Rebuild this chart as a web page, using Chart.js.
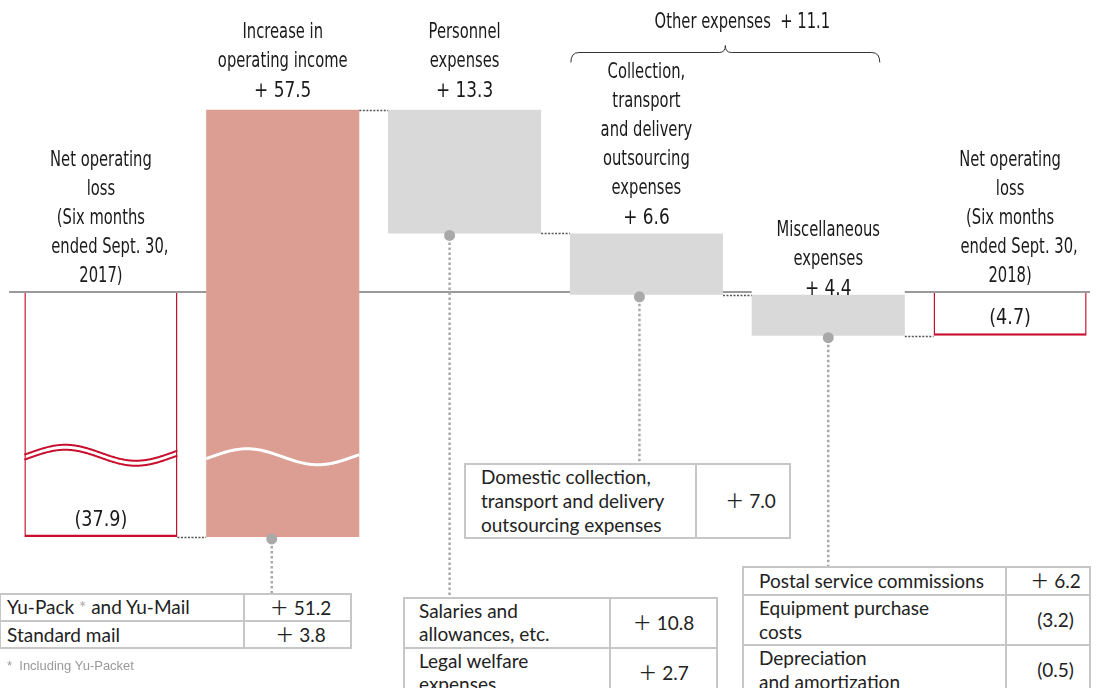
<!DOCTYPE html>
<html>
<head>
<meta charset="utf-8">
<script src="https://cdn.jsdelivr.net/npm/chart.js@4.4.1/dist/chart.umd.min.js"></script>
<style>
  body { margin: 0; background: #fff; }
  #wrap { position: relative; width: 1101px; height: 688px; overflow: hidden; }
  #chart { position: absolute; left: 0; top: 0; }
  table.breakdown {
    position: absolute; border-collapse: collapse; background: #fff;
    font-family: Lato, "Noto Sans CJK JP", sans-serif; font-size: 19px; color: #222;
  }
  table.breakdown td { border: 2px solid #c6c6c6; padding: 0 0 0 14px; line-height: 24px; white-space: nowrap; }
  table.breakdown td.val { text-align: center; padding: 0; }
  table.breakdown .star { color: #aaa; font-size: 17px; }
  #tblYu { left: -1px; top: 593px; width: 353px; }
  #tblYu td { height: 25px; padding-left: 6px; }
  #tblYu td:first-child { width: 236px; }
  #tblCollection { left: 464px; top: 463px; width: 327px; }
  #tblCollection td { height: 71px; padding-left: 15px; }
  #tblCollection td:first-child { width: 214px; }
  #tblPersonnel { left: 403px; top: 597px; width: 315px; }
  #tblPersonnel td { height: 43px; line-height: 23px; padding-bottom: 2px; }
  #tblPersonnel td:first-child { width: 190px; }
  #tblMisc { left: 742px; top: 566px; width: 349px; }
  #tblMisc td { height: 43px; padding-left: 15px; }
  #tblMisc tr:first-child td { height: 26px; }
  #tblMisc td:first-child { width: 246px; }
  #note { position: absolute; left: 7px; top: 658px; font: 13px "Liberation Sans", Arial, sans-serif; color: #999; }
</style>
</head>
<body>
<div id="wrap">
  <canvas id="chart" width="1101" height="688"></canvas>
  <div id="note">*&nbsp;&nbsp;Including Yu-Packet</div>
</div>
<script>
// Operating income bridge, six months ended Sept. 30 (billion yen)
const categories = ['Loss 2017', 'Operating income', 'Personnel', 'Collection', 'Miscellaneous', 'Loss 2018'];
const openingLoss = -37.9;
const incomeIncrease = 57.5;
const expenseIncreases = [13.3, 6.6, 4.4];   // personnel, collection/transport, misc
const closingLoss = -4.7;
const otherExpensesTotal = 11.1;

const headings = [
  ['Net operating', 'loss', '(Six months', 'ended Sept. 30,', '2017)'],
  ['Increase in', 'operating income'],
  ['Personnel', 'expenses'],
  ['Collection,', 'transport', 'and delivery', 'outsourcing', 'expenses'],
  ['Miscellaneous', 'expenses'],
  ['Net operating', 'loss', '(Six months', 'ended Sept. 30,', '2018)']
];

// breakdown tables hanging under the bars
const yuRows = [['Yu-Pack * and Yu-Mail', 51.2], ['Standard mail', 3.8]];
const personnelRows = [['Salaries and<br>allowances, etc.', 10.8], ['Legal welfare<br>expenses', 2.7]];
const collectionRows = [['Domestic collection,<br>transport and delivery<br>outsourcing expenses', 7.0]];
const miscRows = [['Postal service commissions', 6.2], ['Equipment purchase<br>costs', -3.2], ['Depreciation<br>and amortization', -0.5]];

// styling per bar
const fills = ['#ffffff', '#dc9d93', '#d9d9d9', '#d9d9d9', '#d9d9d9', '#ffffff'];
const isTotal = [true, false, false, false, false, true];
const headingGap = [16, 18, 18, 15, 6, 16];
const totalLineShift = [0, 0, 0, 9, 0];   // the "ended Sept. 30," line sits a bit to the right
const leaderTables = [null, 'tblYu', 'tblPersonnel', 'tblCollection', 'tblMisc', null];
const dotShift = [0, -11, -15, -7, 0, 0];
const RED = '#c8102e';

function fmtTable(v) {
  return v < 0 ? '(' + Math.abs(v).toFixed(1) + ')' : '\uFF0B ' + v.toFixed(1);
}

function buildTable(id, rows) {
  const t = document.createElement('table');
  t.className = 'breakdown';
  t.id = id;
  rows.forEach(r => {
    const tr = document.createElement('tr');
    const name = r[0].replace('*', '<span class="star">*</span>');
    tr.innerHTML = '<td>' + name + '</td><td class="val">' + fmtTable(r[1]) + '</td>';
    t.appendChild(tr);
  });
  document.getElementById('wrap').appendChild(t);
}
buildTable('tblYu', yuRows);
buildTable('tblPersonnel', personnelRows);
buildTable('tblCollection', collectionRows);
buildTable('tblMisc', miscRows);

// running totals -> floating bar ranges
const ranges = [];
const levels = [];
let level = openingLoss;
ranges.push([0, openingLoss]);
levels.push(level);
ranges.push([level, level + incomeIncrease]);
level += incomeIncrease;
levels.push(level);
expenseIncreases.forEach(v => {
  ranges.push([level, level - v]);
  level -= v;
  levels.push(level);
});
ranges.push([0, closingLoss]);

const valueLabels = [
  '(' + Math.abs(openingLoss).toFixed(1) + ')',
  '+ ' + incomeIncrease.toFixed(1),
  ...expenseIncreases.map(v => '+ ' + v.toFixed(1)),
  '(' + Math.abs(closingLoss).toFixed(1) + ')'
];

// linear scale with a squeezed section below the break value
class BrokenLinearScale extends Chart.LinearScale {
  squash(v) {
    const b = this.options.breakAt, f = this.options.squeeze;
    return v < b ? b + (v - b) * f : v;
  }
  getPixelForValue(v) {
    return super.getPixelForValue(this.squash(v));
  }
}
BrokenLinearScale.id = 'brokenLinear';
BrokenLinearScale.defaults = Chart.LinearScale.defaults;
Chart.register(BrokenLinearScale);

// narrow labels: DejaVu Sans squeezed horizontally
function narrowText(ctx, text, x, y, size, sx) {
  ctx.save();
  ctx.translate(x, y);
  ctx.scale(sx, 1);
  ctx.font = size + 'px "DejaVu Sans", sans-serif';
  ctx.fillText(text, 0, 0);
  ctx.restore();
}

function wave(ctx, left, right, yc, amp) {
  ctx.beginPath();
  for (let x = left; x <= right; x++) {
    const t = (x - left) / (right - left);
    const y = yc - amp * Math.sin(2 * Math.PI * 1.08 * t - 0.24);
    if (x === left) ctx.moveTo(x, y); else ctx.lineTo(x, y);
  }
  ctx.stroke();
}

const decor = {
  id: 'decor',
  beforeDatasetsDraw(chart) {
    const ctx = chart.ctx, y0 = chart.scales.y.getPixelForValue(0);
    ctx.save();
    ctx.strokeStyle = '#9a9a9a';
    ctx.lineWidth = 2;
    ctx.beginPath();
    ctx.moveTo(9, y0);
    ctx.lineTo(1090, y0);
    ctx.stroke();
    ctx.restore();
  },
  afterDatasetsDraw(chart) {
    const ctx = chart.ctx, ys = chart.scales.y;
    const bars = chart.getDatasetMeta(0).data.map(b => b.getProps(['x', 'y', 'base', 'width'], true));
    const y0 = ys.getPixelForValue(0);
    ctx.save();

    // zero line across the top of the total bars
    ctx.strokeStyle = '#9a9a9a';
    ctx.lineWidth = 2;
    bars.forEach((b, i) => {
      if (!isTotal[i]) return;
      ctx.beginPath();
      ctx.moveTo(b.x - b.width / 2 - 1, y0);
      ctx.lineTo(b.x + b.width / 2 + 1, y0);
      ctx.stroke();
    });

    // dotted connectors between bars
    ctx.strokeStyle = '#555';
    ctx.lineWidth = 1.5;
    ctx.setLineDash([2, 1.5]);
    for (let i = 0; i < bars.length - 1; i++) {
      const y = Math.round(ys.getPixelForValue(levels[i])) + 0.5;
      ctx.beginPath();
      ctx.moveTo(bars[i].x + bars[i].width / 2, y);
      ctx.lineTo(bars[i + 1].x - bars[i + 1].width / 2, y);
      ctx.stroke();
    }
    ctx.setLineDash([]);

    // axis break waves
    const yb = ys.getPixelForValue(ys.options.breakAt);
    const b0 = bars[0], b1 = bars[1];
    ctx.strokeStyle = RED;
    ctx.lineWidth = 2;
    wave(ctx, b0.x - b0.width / 2, b0.x + b0.width / 2, yb - 2, 8);
    wave(ctx, b0.x - b0.width / 2, b0.x + b0.width / 2, yb + 3, 8);
    ctx.strokeStyle = '#ffffff';
    ctx.lineWidth = 3;
    wave(ctx, b1.x - b1.width / 2, b1.x + b1.width / 2, yb + 2, 8);

    // leader lines from bars to breakdown tables
    bars.forEach((b, i) => {
      if (!leaderTables[i]) return;
      const x = b.x + dotShift[i];
      const yTop = Math.max(b.y, b.base);
      const yEnd = document.getElementById(leaderTables[i]).offsetTop;
      ctx.strokeStyle = '#a9a9a9';
      ctx.lineWidth = 2.5;
      ctx.setLineDash([2.5, 2.5]);
      ctx.beginPath();
      ctx.moveTo(x, yTop + 4);
      ctx.lineTo(x, yEnd);
      ctx.stroke();
      ctx.setLineDash([]);
      ctx.fillStyle = '#a9a9a9';
      ctx.beginPath();
      ctx.arc(x, yTop + 2, 5.5, 0, Math.PI * 2);
      ctx.fill();
    });

    // headings above each bar
    ctx.textAlign = 'center';
    ctx.textBaseline = 'middle';
    bars.forEach((b, i) => {
      const top = Math.min(b.y, b.base);
      const lines = headings[i];
      let y = top - headingGap[i];
      const withValue = !isTotal[i];
      const step = i === 4 ? 28.5 : 29;
      const firstY = y - (withValue ? 30 : 0) - (lines.length - 1) * step;
      ctx.fillStyle = '#ffffff';
      ctx.fillRect(b.x - b.width / 2, firstY - 14, b.width, top - 1 - (firstY - 14));
      ctx.fillStyle = '#1a1a1a';
      if (withValue) {
        narrowText(ctx, valueLabels[i], b.x, y, 22, 0.77);
        y -= 30;
      }
      for (let k = lines.length - 1; k >= 0; k--) {
        const dx = isTotal[i] ? totalLineShift[k] : 0;
        narrowText(ctx, lines[k], b.x + dx, y, 22, 0.67);
        y -= step;
      }
      if (isTotal[i]) {
        narrowText(ctx, valueLabels[i], b.x, Math.max(b.y, b.base) - 17, 22, 0.8);
      }
    });

    // brace grouping the two "other" expense bars
    const left = bars[3].x - bars[3].width / 2 + 1;
    const right = bars[4].x + bars[4].width / 2 - 25;
    const mid = (left + right) / 2;
    const yb2 = 52.5;
    ctx.strokeStyle = '#333';
    ctx.lineWidth = 1;
    ctx.beginPath();
    ctx.moveTo(left, yb2 + 10);
    ctx.quadraticCurveTo(left, yb2, left + 8, yb2);
    ctx.lineTo(mid - 6, yb2);
    ctx.quadraticCurveTo(mid, yb2, mid, yb2 - 7);
    ctx.quadraticCurveTo(mid, yb2, mid + 6, yb2);
    ctx.lineTo(right - 8, yb2);
    ctx.quadraticCurveTo(right, yb2, right, yb2 + 10);
    ctx.stroke();
    ctx.fillStyle = '#1a1a1a';
    narrowText(ctx, 'Other expenses  + ' + otherExpensesTotal.toFixed(1), mid + 17, 22, 22, 0.67);

    ctx.restore();
  }
};

new Chart(document.getElementById('chart'), {
  type: 'bar',
  data: {
    labels: categories,
    datasets: [{
      data: ranges,
      backgroundColor: fills,
      borderColor: RED,
      borderWidth: ctx => isTotal[ctx.dataIndex] ? { top: 0, left: 1.5, right: 1.5, bottom: 2.5 } : 0,
      borderSkipped: false,
      inflateAmount: 0,
      barPercentage: 0.842,
      categoryPercentage: 1
    }]
  },
  options: {
    responsive: false,
    animation: false,
    layout: { padding: { left: 10, right: 0, top: 0, bottom: 0 } },
    plugins: { legend: { display: false }, tooltip: { enabled: false } },
    scales: {
      x: { display: false },
      y: {
        type: 'brokenLinear',
        display: false,
        bounds: 'data',
        min: -42.58,
        max: 31.4,
        breakAt: -17.5,
        squeeze: 0.433
      }
    }
  },
  plugins: [decor]
});
</script>
</body>
</html>
